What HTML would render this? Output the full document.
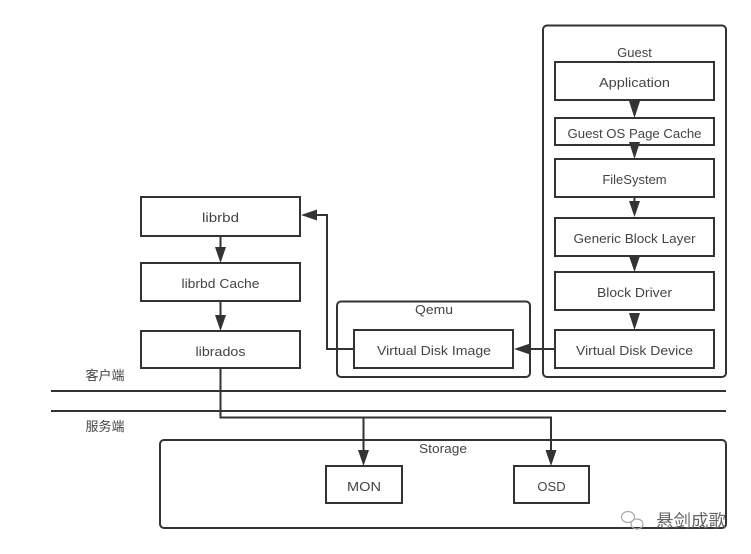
<!DOCTYPE html>
<html><head><meta charset="utf-8"><style>
html,body{margin:0;padding:0;background:#fff}
svg{display:block}
text{font-family:"Liberation Sans","Noto Sans CJK SC",sans-serif;font-size:13px;fill:#444;text-anchor:middle}
.b{fill:#fff;stroke:#333;stroke-width:2}
.c{fill:none;stroke:#333;stroke-width:2}
.a{fill:#333;stroke:none}
</style></head><body>
<svg width="751" height="554" viewBox="0 0 751 554" xmlns="http://www.w3.org/2000/svg">
<rect width="751" height="554" fill="#fff"/>
<rect class="c" x="543" y="25.500" width="183" height="351.500" rx="4"/>
<rect class="c" x="337" y="301.500" width="193" height="75.500" rx="4"/>
<rect class="c" x="160" y="440" width="566" height="88" rx="4"/>
<path d="M51 391H726M51 411H726" stroke="#333" stroke-width="2" fill="none"/>
<path class="c" d="M220.500 368V417.500H551V452M363.500 417.500V452"/>
<path class="c" d="M354 349H327V215H316"/>
<path class="c" d="M555 349H528"/>
<path class="c" d="M220.500 236V250M220.500 301V316M634.500 197V204"/>
<rect class="b" x="555" y="62" width="159" height="38"/>
<rect class="b" x="555" y="118" width="159" height="27"/>
<rect class="b" x="555" y="159" width="159" height="38"/>
<rect class="b" x="555" y="218" width="159" height="38"/>
<rect class="b" x="555" y="272" width="159" height="38"/>
<rect class="b" x="555" y="330" width="159" height="38"/>
<rect class="b" x="354" y="330" width="159" height="38"/>
<rect class="b" x="141" y="197" width="159" height="39"/>
<rect class="b" x="141" y="263" width="159" height="38"/>
<rect class="b" x="141" y="331" width="159" height="37"/>
<rect class="b" x="326" y="466" width="76" height="37"/>
<rect class="b" x="514" y="466" width="75" height="37"/>
<path class="a" d="M629 101H640L634.500 118ZM629 142H640L634.500 159ZM629 201H640L634.500 217ZM629 256H640L634.500 272ZM629 313H640L634.500 330Z"/>
<path class="a" d="M215 247H226L220.500 263ZM215 315H226L220.500 331ZM358 450H369L363.500 466ZM545.500 450H556.500L551 466Z"/>
<path class="a" d="M301 215L317 209.500V220.500ZM514 349L530 343.500V354.500Z"/>
<text x="634.500" y="57">Guest</text>
<text x="634.500" y="87" textLength="71" lengthAdjust="spacingAndGlyphs">Application</text>
<text x="634.500" y="138" textLength="134" lengthAdjust="spacingAndGlyphs">Guest OS Page Cache</text>
<text x="634.500" y="184">FileSystem</text>
<text x="634.500" y="243" textLength="122" lengthAdjust="spacingAndGlyphs">Generic Block Layer</text>
<text x="634.500" y="297" textLength="75" lengthAdjust="spacingAndGlyphs">Block Driver</text>
<text x="634.500" y="355" textLength="117" lengthAdjust="spacingAndGlyphs">Virtual Disk Device</text>
<text x="434" y="314" textLength="38" lengthAdjust="spacingAndGlyphs">Qemu</text>
<text x="434" y="355" textLength="114" lengthAdjust="spacingAndGlyphs">Virtual Disk Image</text>
<text x="220.500" y="222" textLength="37" lengthAdjust="spacingAndGlyphs">librbd</text>
<text x="220.500" y="288" textLength="78" lengthAdjust="spacingAndGlyphs">librbd Cache</text>
<text x="220.500" y="356" textLength="50" lengthAdjust="spacingAndGlyphs">librados</text>
<text x="105" y="380" style="font-size:13px">客户端</text>
<text x="105" y="431" style="font-size:13px">服务端</text>
<text x="443" y="453" textLength="48" lengthAdjust="spacingAndGlyphs">Storage</text>
<text x="364" y="491" textLength="34" lengthAdjust="spacingAndGlyphs">MON</text>
<text x="551.500" y="491">OSD</text>
<text x="691" y="527" style="font-size:17.500px;fill:#666">悬剑成歌</text>
<g fill="none" stroke="#aaa" stroke-width="1.200"><ellipse cx="628" cy="517" rx="6.500" ry="5.500"/><ellipse cx="637" cy="524" rx="6" ry="5"/></g>
</svg>
</body></html>
